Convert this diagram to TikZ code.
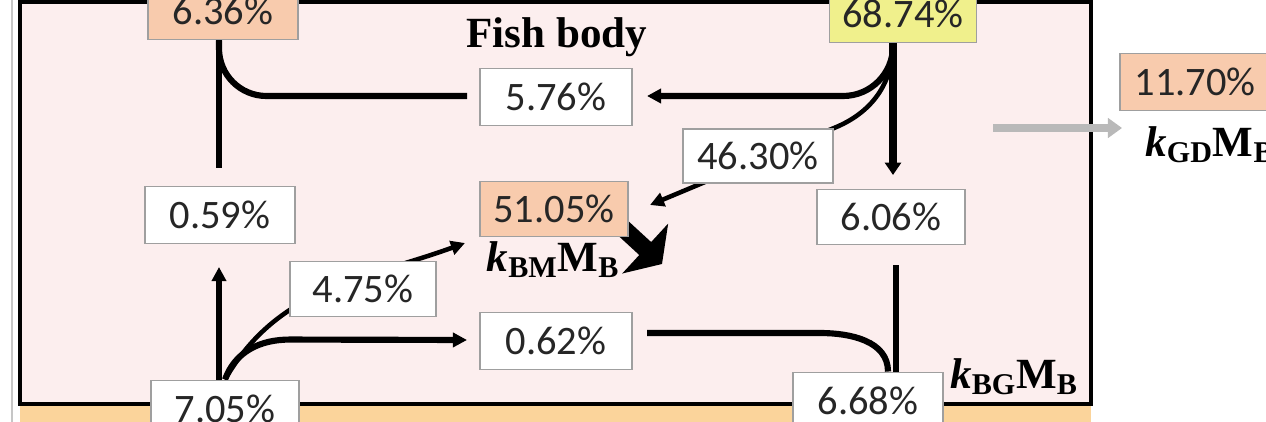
\documentclass[tikz,border=0pt]{standalone}
\usepackage{fontspec}
\setmainfont{Liberation Serif}
\setsansfont{Carlito}
\usetikzlibrary{arrows.meta, positioning, calc}
\definecolor{fishpink}{RGB}{252,238,238}
\definecolor{peach}{RGB}{248,203,173}
\definecolor{lemon}{RGB}{240,240,140}
\definecolor{gutband}{RGB}{251,212,155}
\pgfdeclarelayer{bg}
\pgfdeclarelayer{flows}
\pgfsetlayers{bg,flows,main}
\newcommand\flux[1]{\textit{k}\textsubscript{#1}M\textsubscript{B}}

\begin{document}
\begin{tikzpicture}[
  x=0.02cm, y=-0.02cm,
  pct/.style={draw=gray!75, line width=1.1pt, fill=white, minimum width=3cm,
              minimum height=1.14cm, inner sep=0pt, text=black!85,
              font=\sffamily\fontsize{23}{26}\selectfont},
  peachbox/.style={pct, fill=peach},
  lemonbox/.style={pct, fill=lemon},
  rate/.style={font=\fontsize{24.5}{28}\selectfont\bfseries, inner sep=0pt},
  flow/.style={line width=3.5pt},
  arr/.style={flow, -{Triangle[length=8pt,width=8pt]}},
  thinarr/.style={line width=2.6pt, -{Triangle[length=8pt,width=8pt]}},
  bigarr/.style={line width=4.6pt, -{Triangle[length=7pt,width=9pt]}},
  lossarr/.style={line width=10pt, -{Triangle[length=13pt,width=38pt]}},
  grayarr/.style={gray!55, line width=4.5pt, -{Triangle[length=8pt,width=11pt]}},
]
\useasboundingbox (0,0) rectangle (1266,422);

%% --- Fish body frame ---
\begin{pgfonlayer}{bg}
  \fill[gutband] (20,404) rectangle (1091,440);
  \draw[line width=2.3pt, fill=fishpink] (20,2) rectangle (1091,404);
  \draw[gray!45, line width=1.5pt] (12,-5) -- (12,430);
\end{pgfonlayer}
\node[rate, anchor=base] (title) at (557,48) {Fish body};

%% --- Percentage boxes ---
\node[peachbox] (m636)  at (223,11)  {6.36\%};
\node[lemonbox, minimum width=2.94cm] (m6874) at (903,14) {68.74\%};
\node[pct, minimum width=3.04cm] (m576) at (556,97) {5.76\%};
\node[pct, minimum height=1.08cm] (m4630) at (758,156) {46.30\%};
\node[peachbox, minimum width=2.96cm, minimum height=1.1cm] (m5105) at (554,209) {51.05\%};
\node[pct, minimum width=3cm] (m059) at (220,215) {0.59\%};
\node[pct, minimum width=2.96cm, minimum height=1.1cm] (m606) at (891,217) {6.06\%};
\node[pct, minimum width=2.92cm, minimum height=1.1cm] (m475) at (363,289) {4.75\%};
\node[pct, minimum width=3.04cm] (m062) at (556,341) {0.62\%};
\node[pct, minimum width=2.96cm] (m705) at (225,409) {7.05\%};
\node[pct] (m668) at (868,401) {6.68\%};
\node[peachbox] (m1170) at (1195,82) {11.70\%};

%% --- Rate labels ---
\node[rate, anchor=base] (kbm) at (553,271) {\flux{BM}};
\node[rate, anchor=base west] (kbg) at (950,388) {\flux{BG}};
\node[rate, anchor=north west] (kgd) at (1145,126) {\flux{GD}};

%% --- Free ends ---
\coordinate (s636) at (219,168);
\coordinate (h059) at (219,267);
\coordinate (w576) at (467,96);
\coordinate (e576) at (647,96);
\coordinate (h5105) at (650,205);
\coordinate (h606) at (893,175);
\coordinate (s606) at (896,265);
\coordinate (w5105) at (465,243);
\coordinate (w062) at (467,340);
\coordinate (e062) at (647,333);
\coordinate (b062) at (820,333);
\coordinate (g1) at (993,128);
\coordinate (g2) at (1122,128);
\coordinate (l1) at (612,218);
\coordinate (l2) at (662,264);

%% --- Flows ---
\begin{pgfonlayer}{flows}
  \draw[flow] (m636.south -| s636) -- (s636);
  \draw[arr] (m705.north -| h059) -- (h059);
  \draw[flow, rounded corners=0.95cm] (w576) -| (m636.south -| s636);
  \draw[arr, rounded corners=1cm] (m6874.south -| h606) |- (e576);
  \draw[thinarr] (m6874.south -| h606) to[out=-90,in=22] (m4630.north east) -- (h5105);
  \draw[bigarr] (m6874.south -| h606) -- (h606);
  \draw[flow] (s606) -- (m668.north -| s606);
  \draw[flow] (e062) -- (b062) to[out=0,in=90] ($(m668.north)+(20,0)$);
  \draw[thinarr] (m705.north) to[out=60,in=200] (w5105);
  \draw[arr] (m705.north) to[out=70,in=180] ++(65,-40) -- (w062);
  \draw[lossarr] (l1) -- (l2);
  \draw[grayarr] (g1) -- (g2);
\end{pgfonlayer}

\end{tikzpicture}
\end{document}
